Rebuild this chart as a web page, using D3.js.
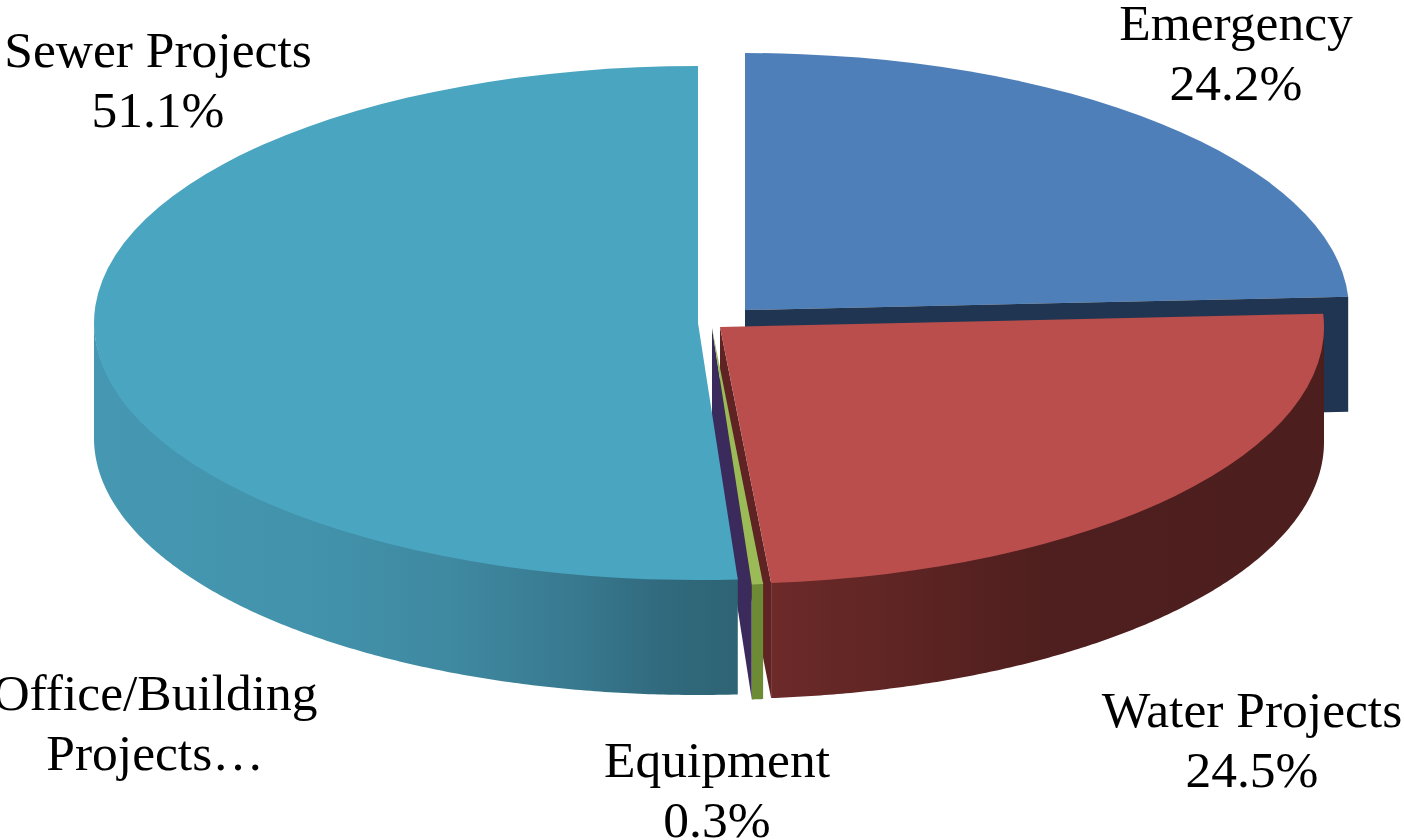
<!DOCTYPE html>
<html lang="en">
<head>
<meta charset="UTF-8">
<title>Project spending</title>
<script src="https://d3js.org/d3.v7.min.js"></script>
<style>
    html, body { margin: 0; background: #fff; }
    svg { display: block; }
    .label { font-family: "Liberation Serif", serif; font-size: 51.5px; fill: #000; text-anchor: middle; }
</style>
</head>
<body>
<svg width="1404" height="840"></svg>
<script>
// clockwise from 12 o'clock, like the original pie
const categories = ["Emergency", "Water Projects", "Equipment", "Office/Building Projects", "Sewer Projects"];
const shares = [24.2, 24.5, 0.3, 0, 51.1]; // office share is cut off in the source, next to nothing
const labelLines = [
    ["Emergency", "24.2%"],
    ["Water Projects", "24.5%"],
    ["Equipment", "0.3%"],
    ["Office/Building", "Projects…"],
    ["Sewer Projects", "51.1%"]
];

const width = 1404, height = 840;
const rx = 604, ry = 257, depth = 115;

// slice centre after exploding, top face colour, cut face colour
const look = {
    "Emergency": { cx: 745, cy: 310, top: "#4e7fb9", cut: "#1f3551" },
    "Water Projects": { cx: 720, cy: 327, top: "#b94e4c", cut: "#5e2322" },
    "Equipment": { cx: 712, cy: 328, top: "#9bbb59", wall: "#6d8a34" },
    "Office/Building Projects": { cx: 712, cy: 328, cut: "#3a2b5c" },
    "Sewer Projects": { cx: 698, cy: 323, top: "#4aa6c0" }
};
const labelPos = {
    "Emergency": [1236, 40],
    "Water Projects": [1252, 727],
    "Equipment": [717, 777],
    "Office/Building Projects": [155, 710],
    "Sewer Projects": [158, 67]
};

const svg = d3.select("svg");

const slices = d3.pie().sort(null).startAngle(0).endAngle(2 * Math.PI)(shares)
    .map((d, i) => ({ ...d, name: categories[i], lines: labelLines[i], ...look[categories[i]] }));
const byName = Object.fromEntries(slices.map(d => [d.name, d]));

// radius in pixels, d3.arc rounds to 3 digits and a unit circle would go lopsided
const arc = d3.arc().innerRadius(0).outerRadius(rx);
const rimX = (d, a) => d.cx + rx * Math.sin(a);
const rimY = (d, a) => d.cy - ry * Math.cos(a);
const line = d3.line();

function drawTop(d) {
    svg.append("path")
        .attr("d", arc(d))
        .attr("transform", `translate(${d.cx},${d.cy}) scale(1,${ry / rx})`)
        .attr("fill", d.top);
}

// flat face left by the cut at angle a, pushed down by the pie depth
function drawCut(d, a) {
    const x = rimX(d, a), y = rimY(d, a);
    svg.append("path")
        .attr("d", line([[d.cx, d.cy], [x, y], [x, y + depth], [d.cx, d.cy + depth]]) + "Z")
        .attr("fill", d.cut);
}

// outer wall between two angles, only the front half ever shows
// upper edge goes 2px under the top face so no hairline shows between them
function drawWall(d, a0, a1, fill) {
    const angles = d3.range(0, 201).map(t => a0 + (a1 - a0) * t / 200);
    const upper = angles.map(a => [rimX(d, a), rimY(d, a) - 2]);
    const lower = angles.slice().reverse().map(a => [rimX(d, a), rimY(d, a) + depth]);
    svg.append("path").attr("d", line(upper.concat(lower)) + "Z").attr("fill", fill);
}

function wallGradient(id, x1, x2, stops) {
    const g = svg.append("defs").append("linearGradient")
        .attr("id", id)
        .attr("gradientUnits", "userSpaceOnUse")
        .attr("x1", x1).attr("x2", x2).attr("y1", 0).attr("y2", 0);
    stops.forEach(s => g.append("stop").attr("offset", s[0]).attr("stop-color", s[1]));
}

const sewer = byName["Sewer Projects"];
const water = byName["Water Projects"];
const equipment = byName["Equipment"];
const office = byName["Office/Building Projects"];
const emergency = byName["Emergency"];

wallGradient("sewerWall", sewer.cx - rx, rimX(sewer, sewer.startAngle), [
    [0, "#4698b2"], [0.35, "#4292ab"], [0.55, "#3f89a1"], [0.75, "#38798f"], [0.88, "#316a7e"], [1, "#2e6474"]
]);
wallGradient("waterWall", rimX(water, water.endAngle), water.cx + rx, [
    [0, "#6c2a29"], [0.3, "#5a2322"], [0.5, "#4e1f1e"], [1, "#4c1e1d"]
]);

// back to front
drawTop(emergency);
drawCut(emergency, emergency.endAngle);

drawCut(water, water.endAngle);

drawCut(office, office.startAngle);
drawWall(equipment, equipment.startAngle, equipment.endAngle, equipment.wall);
drawTop(equipment);

drawWall(sewer, sewer.startAngle, 1.5 * Math.PI, "url(#sewerWall)");
drawTop(sewer);

drawWall(water, Math.PI / 2, water.endAngle, "url(#waterWall)");
drawTop(water);

slices.forEach(d => {
    const [x, y] = labelPos[d.name];
    d.lines.forEach((t, i) => {
        svg.append("text").attr("class", "label")
            .attr("x", x).attr("y", y + i * 60)
            .text(t);
    });
});
</script>
</body>
</html>
